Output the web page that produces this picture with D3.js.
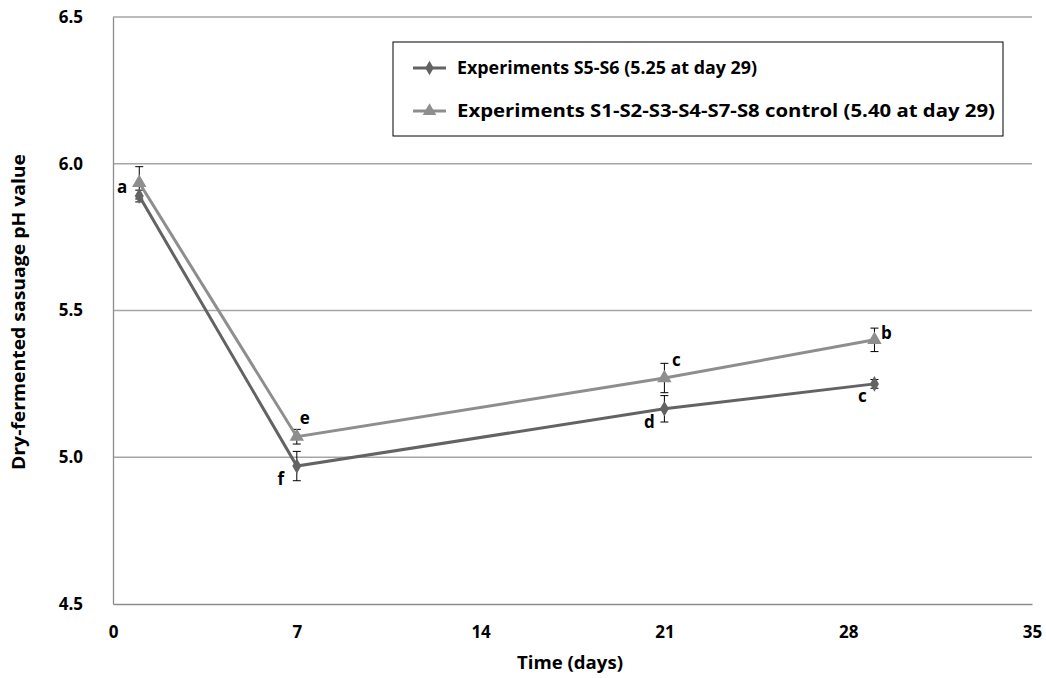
<!DOCTYPE html>
<html>
<head>
<meta charset="utf-8">
<script src="https://cdn.jsdelivr.net/npm/d3@7"></script>
<style>
  body { margin: 0; background: #fff; }
  text { font-family: "Open Sans", "DejaVu Sans", sans-serif; font-weight: bold; fill: #000; }
</style>
</head>
<body>
<div id="chart"></div>
<script>
// data
var days = [1, 7, 21, 29];
var seriesNames = ['Experiments S5-S6 (5.25 at day 29)',
                   'Experiments S1-S2-S3-S4-S7-S8 control (5.40 at day 29)'];
var s56 = [5.89, 4.97, 5.165, 5.25];
var s56Err = [0.02, 0.05, 0.045, 0.015];
var s56Letters = ['', 'f', 'd', 'c'];
var ctrl = [5.935, 5.07, 5.27, 5.40];
var ctrlErr = [0.055, 0.025, 0.05, 0.04];
var ctrlLetters = ['a', 'e', 'c', 'b'];
var xTicks = [0, 7, 14, 21, 28, 35];
var yTicks = [4.5, 5.0, 5.5, 6.0, 6.5];

var width = 1046, height = 678;
var margin = {top: 17, right: 14, bottom: 74, left: 113};

var svg = d3.select('#chart').append('svg')
    .attr('width', width)
    .attr('height', height);

var x = d3.scaleLinear().domain([0, 35]).range([margin.left, width - margin.right]);
var y = d3.scaleLinear().domain([4.5, 6.5]).range([height - margin.bottom, margin.top]);

// gridlines
svg.append('g').selectAll('line')
    .data(yTicks.slice(1))
    .enter().append('line')
    .attr('x1', x(0)).attr('x2', x(35))
    .attr('y1', function(d) { return y(d); })
    .attr('y2', function(d) { return y(d); })
    .attr('stroke', '#a6a6a6')
    .attr('stroke-width', 1.3);

// axes
var xAxis = svg.append('g')
    .attr('transform', 'translate(0,' + y(4.5) + ')')
    .call(d3.axisBottom(x).tickValues(xTicks).tickSize(0).tickPadding(22));
var yAxis = svg.append('g')
    .attr('transform', 'translate(' + x(0) + ',0)')
    .call(d3.axisLeft(y).tickValues(yTicks).tickSize(0).tickPadding(30)
        .tickFormat(d3.format('.1f')));
[xAxis, yAxis].forEach(function(a) {
    a.select('.domain').attr('stroke', '#8c8c8c').attr('stroke-width', 1.3);
    a.selectAll('text').style('font-size', '17px').attr('fill', '#000');
});

svg.append('text')
    .attr('x', 570).attr('y', 669)
    .attr('text-anchor', 'middle')
    .style('font-size', '17px')
    .attr('textLength', 106)
    .attr('lengthAdjust', 'spacingAndGlyphs')
    .text('Time (days)');
svg.append('text')
    .attr('transform', 'translate(25,' + 312 + ') rotate(-90)')
    .attr('text-anchor', 'middle')
    .style('font-size', '17px')
    .attr('textLength', 316)
    .attr('lengthAdjust', 'spacingAndGlyphs')
    .text('Dry-fermented sasuage pH value');

var series = [
    {name: seriesNames[0], vals: s56, err: s56Err, letters: s56Letters, color: '#636363', shape: d3.symbolDiamond},
    {name: seriesNames[1], vals: ctrl, err: ctrlErr, letters: ctrlLetters, color: '#8e8e8e', shape: d3.symbolTriangle}
];

var line = d3.line()
    .x(function(d) { return x(d[0]); })
    .y(function(d) { return y(d[1]); });

// error bars
series.forEach(function(s) {
    var g = svg.append('g');
    days.forEach(function(dd, i) {
        var cx = x(dd), lo = y(s.vals[i] - s.err[i]), hi = y(s.vals[i] + s.err[i]);
        g.append('line').attr('x1', cx).attr('x2', cx).attr('y1', lo).attr('y2', hi)
            .attr('stroke', '#000').attr('stroke-width', 1);
        [lo, hi].forEach(function(yy) {
            g.append('line').attr('x1', cx - 4).attr('x2', cx + 4).attr('y1', yy).attr('y2', yy)
                .attr('stroke', '#000').attr('stroke-width', 1);
        });
    });
});

series.forEach(function(s) {
    var pts = days.map(function(d, i) { return [d, s.vals[i]]; });
    svg.append('path')
        .attr('d', line(pts))
        .attr('fill', 'none')
        .attr('stroke', s.color)
        .attr('stroke-width', 3);
    svg.append('g').selectAll('path')
        .data(pts)
        .enter().append('path')
        .attr('transform', function(d) { return 'translate(' + x(d[0]) + ',' + y(d[1]) + ')'; })
        .attr('d', d3.symbol().type(s.shape).size(s.shape === d3.symbolTriangle ? 90 : 70))
        .attr('fill', s.color);
});

// significance letters
var letterOffsets = {
    ctrl: [[-17, 10], [8, -13], [12, -12], [12, -1]],
    s56: [[0, 0], [-16, 19], [-15, 19], [-12, 18]]
};
[['ctrl', ctrl, ctrlLetters], ['s56', s56, s56Letters]].forEach(function(e) {
    days.forEach(function(d, i) {
        if (!e[2][i]) return;
        var off = letterOffsets[e[0]][i];
        svg.append('text')
            .attr('x', x(d) + off[0]).attr('y', y(e[1][i]) + off[1])
            .attr('text-anchor', 'middle')
            .style('font-size', '17px')
            .text(e[2][i]);
    });
});

// legend
var legend = svg.append('g').attr('transform', 'translate(393,42)');
legend.append('rect')
    .attr('width', 610).attr('height', 94)
    .attr('fill', '#fff').attr('stroke', '#000').attr('stroke-width', 1);
var textWidths = [300, 538];
series.forEach(function(s, i) {
    var ly = 26 + i * 43;
    legend.append('line')
        .attr('x1', 20).attr('x2', 53).attr('y1', ly).attr('y2', ly)
        .attr('stroke', s.color).attr('stroke-width', 3);
    legend.append('path')
        .attr('transform', 'translate(36.5,' + ly + ')')
        .attr('d', d3.symbol().type(s.shape).size(s.shape === d3.symbolTriangle ? 80 : 60))
        .attr('fill', s.color);
    legend.append('text')
        .attr('x', 64).attr('y', ly + 6)
        .style('font-size', '17px')
        .attr('textLength', textWidths[i])
        .attr('lengthAdjust', 'spacingAndGlyphs')
        .text(s.name);
});
</script>
</body>
</html>
